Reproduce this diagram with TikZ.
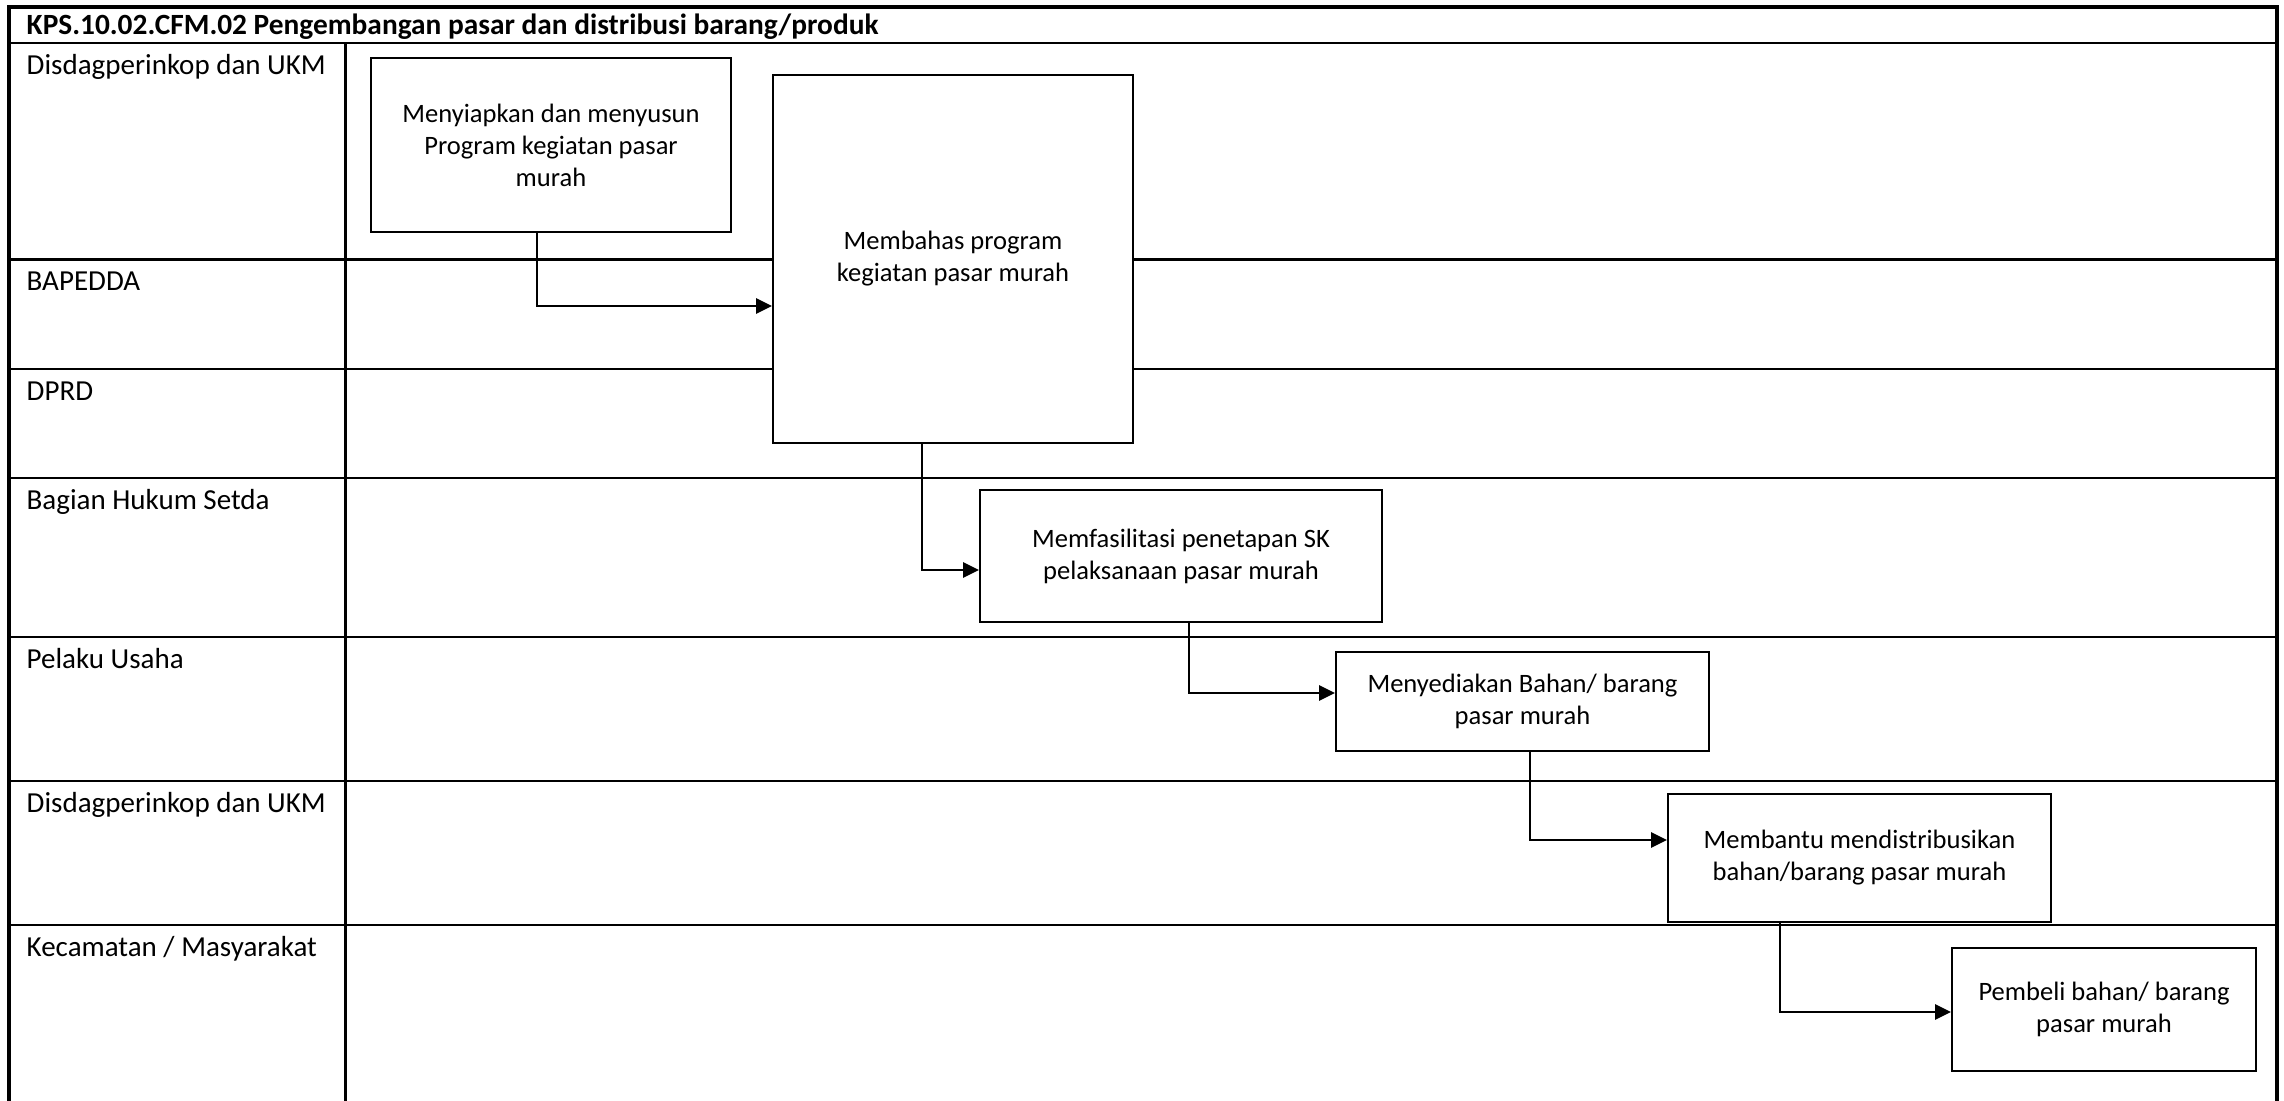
\documentclass[tikz,border=0pt]{standalone}
\usepackage{fontspec}
\setmainfont{Carlito}
\usetikzlibrary{arrows.meta}

\tikzset{
  lane/.style={line width=0.7pt},
  lanelabel/.style={anchor=base west, inner sep=0pt, font=\fontsize{8.25}{10}\selectfont},
  proc/.style={draw, line width=0.5pt, fill=white, align=center, inner sep=2pt,
    font=\fontsize{7.55}{9.1}\selectfont},
  flow/.style={line width=0.55pt, -{Triangle[length=4.5pt,width=4.3pt]}}
}

\begin{document}
\begin{tikzpicture}[x=0.01cm, y=-0.01cm]
  \useasboundingbox (0,0) rectangle (2284,1101);
  \fill[white] (0,0) rectangle (2284,1101);

  % frame and swimlanes
  \draw[lane, line width=0.9pt] (9,1101) -- (9,7) -- (2277,7) -- (2277,1101);
  \draw[lane] (9,43) -- (2277,43);
  \draw[lane] (345.7,43) -- (345.7,1101);
  \draw[lane] (9,259.5) -- (2277,259.5);
  \draw[lane] (9,369) -- (2277,369);
  \draw[lane] (9,478) -- (2277,478);
  \draw[lane] (9,637) -- (2277,637);
  \draw[lane] (9,781) -- (2277,781);
  \draw[lane] (9,925) -- (2277,925);

  \node[lanelabel, font=\bfseries\fontsize{8.35}{10}\selectfont] (title) at (26,35)
    {KPS.10.02.CFM.02 Pengembangan pasar dan distribusi barang/produk};
  \node[lanelabel] (dinas) at (26,74.5) {Disdagperinkop dan UKM};
  \node[lanelabel] (bapedda) at (26,290.5) {BAPEDDA};
  \node[lanelabel] (dprd) at (26,400.5) {DPRD};
  \node[lanelabel] (hukum) at (26,509.5) {Bagian Hukum Setda};
  \node[lanelabel] (usaha) at (26,668.5) {Pelaku Usaha};
  \node[lanelabel] (dinasb) at (26,812.5) {Disdagperinkop dan UKM};
  \node[lanelabel] (camat) at (26,956.5) {Kecamatan / Masyarakat};

  % activities
  \node[proc, minimum width=3.60cm, minimum height=1.74cm] (prep) at (551,145)
    {Menyiapkan dan menyusun\\Program kegiatan pasar\\murah};
  \node[proc, minimum width=3.60cm, minimum height=3.68cm] (bahas) at (953,259)
    {Membahas program\\kegiatan pasar murah};
  \node[proc, minimum width=4.02cm, minimum height=1.32cm] (fasil) at (1181,556)
    {Memfasilitasi penetapan SK\\pelaksanaan pasar murah};
  \node[proc, minimum width=3.73cm, minimum height=0.99cm] (sedia) at (1522.5,701.5)
    {Menyediakan Bahan/ barang\\pasar murah};
  \node[proc, minimum width=3.83cm, minimum height=1.28cm] (bantu) at (1859.5,858)
    {Membantu mendistribusikan\\bahan/barang pasar murah};
  \node[proc, minimum width=3.04cm, minimum height=1.23cm] (beli) at (2104,1009.5)
    {Pembeli bahan/ barang\\pasar murah};

  % flow
  \coordinate (k1) at (537,306);
  \coordinate (k2) at (922,570);
  \coordinate (k3) at (1189,693);
  \coordinate (k4) at (1530,840);
  \coordinate (k5) at (1780,1012);
  \draw[flow] (prep.south -| k1) |- (bahas.west |- k1);
  \draw[flow] (bahas.south -| k2) |- (fasil.west |- k2);
  \draw[flow] (fasil.south -| k3) |- (sedia.west |- k3);
  \draw[flow] (sedia.south -| k4) |- (bantu.west |- k4);
  \draw[flow] (bantu.south -| k5) |- (beli.west |- k5);
\end{tikzpicture}
\end{document}
